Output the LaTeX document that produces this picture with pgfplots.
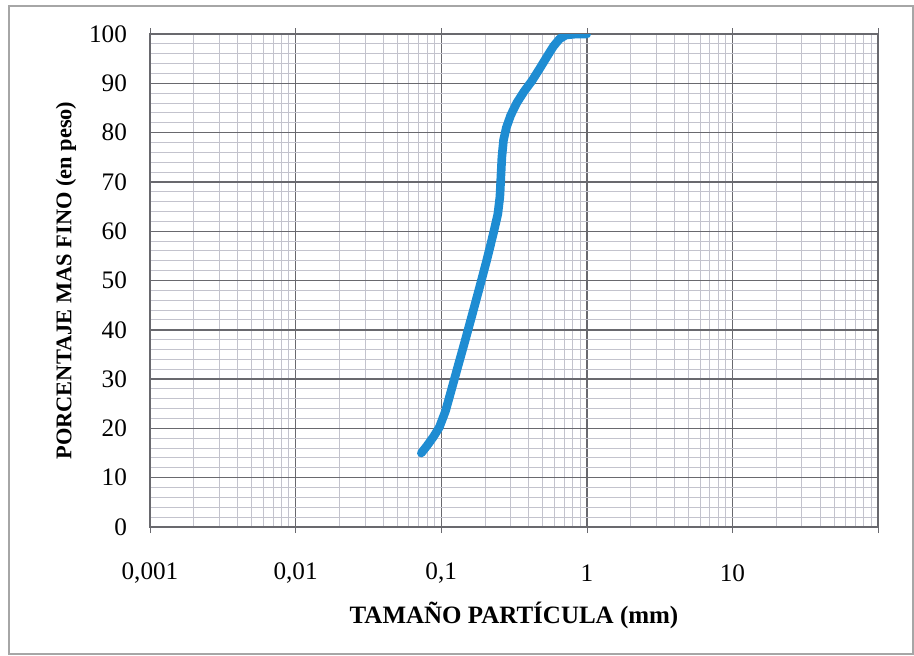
\documentclass[border=0pt]{standalone}
\usepackage{fontspec}
\setmainfont{Liberation Serif}
\usepackage{pgfplots}
\pgfplotsset{compat=1.18}
\definecolor{curveblue}{RGB}{30,140,210}
\definecolor{majgrid}{RGB}{105,105,110}
\definecolor{mingrid}{RGB}{195,195,205}
\begin{document}
\begin{tikzpicture}[x=1pt,y=1pt]
\useasboundingbox (0,0) rectangle (457,327.5);
\draw[gray!70, line width=0.8pt] (4.5,0.5) rectangle (456.5,324.5);
\begin{axis}[
  at={(75pt,64pt)}, anchor=south west,
  scale only axis, width=364pt, height=246.5pt,
  xmode=log, xmin=0.001, xmax=100,
  ymin=0, ymax=100,
  xtick={0.001,0.01,0.1,1,10,100},
  xticklabels={0{,}001,0{,}01,0{,}1,1,10,},
  ytick={0,10,...,100},
  minor ytick={0,2,...,100},
  grid=both,
  major grid style={majgrid, line width=0.7pt},
  minor grid style={mingrid, line width=0.5pt},
  axis line style={majgrid, line width=0.8pt},
  tick align=outside, major tick length=3pt, minor tick length=0pt,
  tick style={majgrid},
  ytick style={draw=none},
  /pgf/number format/assume math mode=true,
  tick label style={font=\fontsize{12.6}{15}\selectfont},
  xticklabel style={anchor=center, yshift=-20pt},
  yticklabel style={anchor=east, xshift=-5pt},
  xlabel={\textbf{TAMAÑO PARTÍCULA (mm)}},
  ylabel={\textbf{PORCENTAJE MAS FINO (en peso)}},
  xlabel style={font=\fontsize{12.5}{14}\selectfont, at={(axis description cs:0.5,-0.1785)}, anchor=center},
  ylabel style={font=\fontsize{11.2}{13}\selectfont, at={(axis description cs:-0.1154,0.5)}, anchor=center, rotate=0},
]
\addplot[curveblue, line width=4.3pt, line cap=round, line join=round] coordinates {
(0.073,15)
(0.080,16.5)
(0.088,18.2)
(0.097,20.2)
(0.107,23.5)
(0.118,28)
(0.130,32.5)
(0.145,37.5)
(0.163,43)
(0.183,48.5)
(0.205,54)
(0.228,59.5)
(0.245,63.5)
(0.253,67)
(0.257,71)
(0.261,75)
(0.268,78.5)
(0.280,81)
(0.300,83.5)
(0.330,86)
(0.370,88.3)
(0.420,90.5)
(0.475,93)
(0.530,95.3)
(0.590,97.5)
(0.650,99)
(0.720,99.8)
(0.85,100)
(1.0,100)
};
\end{axis}
\end{tikzpicture}
\end{document}
